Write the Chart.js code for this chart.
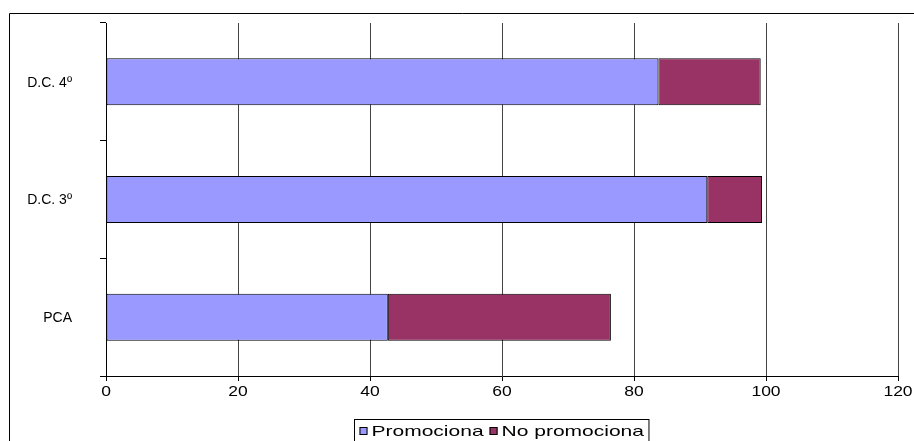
<!DOCTYPE html>
<html>
<head>
<meta charset="utf-8">
<script src="https://cdn.jsdelivr.net/npm/chart.js@4/dist/chart.umd.min.js"></script>
<style>
  html, body { margin: 0; padding: 0; background: #fff; }
  #wrap { width: 914px; height: 441px; }
</style>
</head>
<body>
<div id="wrap"><canvas id="chart" width="914" height="441"></canvas></div>
<script>
const categories = ['D.C. 4º', 'D.C. 3º', 'PCA'];
const promociona = [83.7, 91.1, 42.7];
const noPromociona = [15.5, 8.3, 33.8];
const seriesNames = ['Promociona', 'No promociona'];
const xTicks = [0, 20, 40, 60, 80, 100, 120];

const FONT = '"Liberation Sans", Arial, sans-serif';

// the source picture is stretched sideways, so text is drawn with a horizontal scale
function stretchedText(ctx, text, x, y, align, sx) {
  const w = ctx.measureText(text).width * sx;
  let left = x;
  if (align === 'center') left = x - w / 2;
  else if (align === 'right') left = x - w;
  ctx.save();
  ctx.translate(left, y);
  ctx.scale(sx, 1);
  ctx.textAlign = 'left';
  ctx.fillText(text, 0, 0);
  ctx.restore();
  return w;
}

const labelsPlugin = {
  id: 'labels',
  afterDraw(chart) {
    const ctx = chart.ctx;
    const xs = chart.scales.x, ys = chart.scales.y;
    ctx.save();
    ctx.fillStyle = '#000';
    ctx.textBaseline = 'middle';

    // x tick labels
    ctx.font = '14px ' + FONT;
    xTicks.forEach((v) => {
      stretchedText(ctx, String(v), xs.getPixelForValue(v), xs.top + 16, 'center', 1.25);
    });

    // category labels
    ctx.font = '14px ' + FONT;
    chart.data.labels.forEach((lab, i) => {
      stretchedText(ctx, lab, 72, ys.getPixelForValue(i) + 1, 'right', 1.0);
    });

    // outer frame, cut off at the right and bottom
    ctx.strokeStyle = '#000';
    ctx.lineWidth = 1;
    ctx.beginPath();
    ctx.moveTo(9.5, 445);
    ctx.lineTo(9.5, 13.5);
    ctx.lineTo(920, 13.5);
    ctx.stroke();

    // legend
    ctx.font = '15px ' + FONT;
    const sx = 1.4;
    const sets = chart.data.datasets;
    const box = 8, gap = 4, itemGap = 6, padX = 5;
    let w = padX * 2;
    sets.forEach((d, i) => {
      w += box + gap + ctx.measureText(d.label).width * sx;
      if (i < sets.length - 1) w += itemGap;
    });
    const lx = Math.round(501 - w / 2) + 0.5;
    const ly = 419.5;
    ctx.fillStyle = '#fff';
    ctx.fillRect(lx, ly, w, 30);
    ctx.strokeStyle = '#000';
    ctx.strokeRect(lx, ly, w, 30);
    let x = lx + padX;
    const cy = 431;
    sets.forEach((d) => {
      ctx.fillStyle = d.backgroundColor;
      ctx.fillRect(x, cy - box / 2, box, box);
      ctx.strokeStyle = '#000';
      ctx.strokeRect(x + 0.5, cy - box / 2 + 0.5, box - 1, box - 1);
      x += box + gap;
      ctx.fillStyle = '#000';
      x += stretchedText(ctx, d.label, x, cy + 1, 'left', sx) + itemGap;
    });
    ctx.restore();
  }
};

new Chart(document.getElementById('chart'), {
  type: 'bar',
  data: {
    labels: categories,
    datasets: [
      {
        label: seriesNames[0],
        data: promociona,
        backgroundColor: '#9999FF',
        borderColor: '#000',
        borderWidth: 1,
        borderSkipped: false,
        barPercentage: 0.4,
        categoryPercentage: 1
      },
      {
        label: seriesNames[1],
        data: noPromociona,
        backgroundColor: '#993366',
        borderColor: '#000',
        borderWidth: 1,
        borderSkipped: false,
        barPercentage: 0.4,
        categoryPercentage: 1
      }
    ]
  },
  options: {
    indexAxis: 'y',
    responsive: false,
    animation: false,
    layout: { padding: { top: 23, left: 0, right: 16, bottom: 35 } },
    plugins: {
      legend: { display: false },
      tooltip: { enabled: false }
    },
    scales: {
      x: {
        stacked: true,
        min: 0,
        max: 120,
        afterBuildTicks(scale) {
          scale.ticks = xTicks.map((v) => ({ value: v }));
        },
        afterFit(scale) { scale.height = 30; },
        border: { color: '#000', width: 1 },
        grid: { color: '#444', lineWidth: 1, tickLength: 5, tickColor: '#000' },
        ticks: { display: false }
      },
      y: {
        stacked: true,
        afterFit(scale) { scale.width = 106; },
        border: { color: '#000', width: 1 },
        grid: { offset: true, drawOnChartArea: false, tickLength: 6, tickColor: '#000' },
        ticks: { display: false }
      }
    }
  },
  plugins: [labelsPlugin]
});
</script>
</body>
</html>
